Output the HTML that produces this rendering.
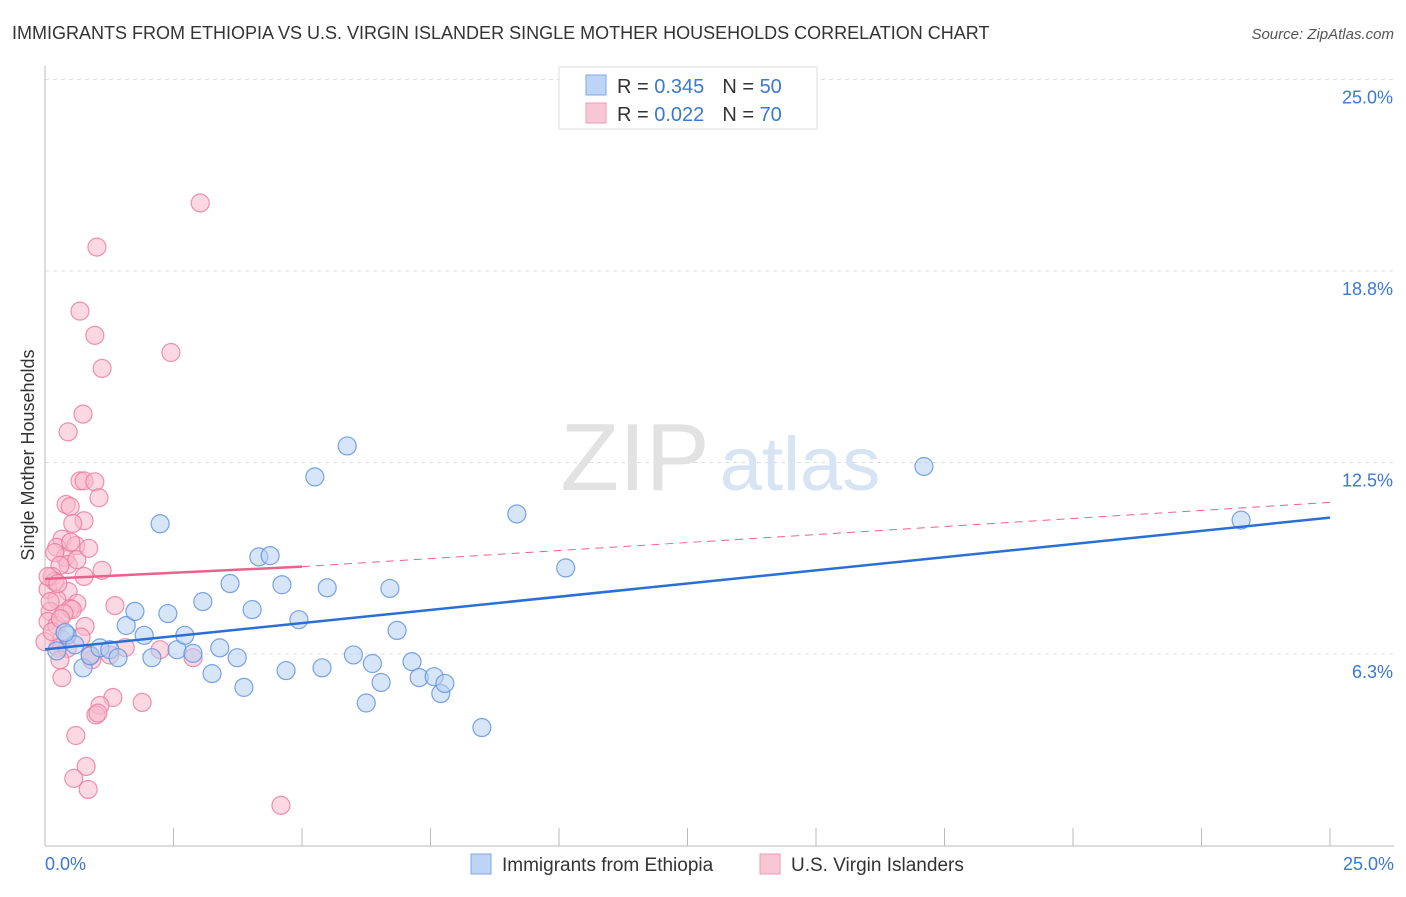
<!DOCTYPE html>
<html><head><meta charset="utf-8">
<style>
body{margin:0;background:#fff;font-family:"Liberation Sans",sans-serif;}
svg text{font-family:"Liberation Sans",sans-serif;}
</style></head>
<body>
<svg id="chart" width="1406" height="892" xmlns="http://www.w3.org/2000/svg">
<text x="12" y="39" font-size="18" fill="#333">IMMIGRANTS FROM ETHIOPIA VS U.S. VIRGIN ISLANDER SINGLE MOTHER HOUSEHOLDS CORRELATION CHART</text>
<text x="1394" y="39" font-size="15" fill="#555" text-anchor="end" font-style="italic">Source: ZipAtlas.com</text>
<g id="grid"></g>
<g>
<text x="635" y="490" font-size="96" fill="#e2e2e2" font-family="Liberation Serif" text-anchor="middle">ZIP</text>
<text x="800" y="490" font-size="76" fill="#d6e4f4" text-anchor="middle">atlas</text>
</g>
<g id="axes"></g>
<g id="pink"></g>
<g id="blue"></g>
<g id="trends"></g>
<text transform="translate(34,455) rotate(-90)" font-size="18" fill="#333" text-anchor="middle">Single Mother Households</text>
<g>
<rect x="559" y="67" width="258" height="62" fill="#fff" stroke="#ddd"/>
<rect x="586" y="75" width="20" height="20" fill="#bcd4f6" stroke="#7fa8e6"/>
<rect x="586" y="103" width="20" height="20" fill="#f9c6d6" stroke="#ee9ab4"/>
<text x="617" y="93" font-size="20" fill="#333">R = <tspan fill="#3a78d4">0.345</tspan><tspan dx="18">N = </tspan><tspan fill="#3a78d4">50</tspan></text>
<text x="617" y="121" font-size="20" fill="#333">R = <tspan fill="#3a78d4">0.022</tspan><tspan dx="18">N = </tspan><tspan fill="#3a78d4">70</tspan></text>
</g>
<g>
<rect x="471" y="854" width="20" height="20" fill="#bcd4f6" stroke="#7fa8e6"/>
<text x="502" y="871" font-size="19" fill="#333">Immigrants from Ethiopia</text>
<rect x="760" y="854" width="20" height="20" fill="#f9c6d6" stroke="#ee9ab4"/>
<text x="791" y="871" font-size="19" fill="#333">U.S. Virgin Islanders</text>
</g>
</svg>
<script>
const yTicks=[25.0,18.8,12.5,6.3];
const yTickLabels=["25.0%","18.8%","12.5%","6.3%"];
const xTickLabels=["0.0%","25.0%"];
const blueX=[0.23,0.43,0.58,0.74,0.88,1.07,1.26,1.42,1.58,1.75,1.93,2.08,2.24,2.39,2.57,2.72,2.88,3.07,3.25,3.40,3.60,3.74,3.87,4.03,4.16,4.38,4.61,4.69,4.94,5.25,5.39,5.49,5.88,6.00,6.25,6.37,6.54,6.71,6.85,7.14,7.28,7.57,7.70,7.78,8.50,9.18,10.13,17.10,23.27,0.39];
const blueY=[6.35,6.87,6.55,5.80,6.19,6.45,6.39,6.13,7.18,7.64,6.86,6.13,10.50,7.57,6.39,6.86,6.27,7.96,5.61,6.45,8.55,6.13,5.16,7.70,9.42,9.46,8.51,5.71,7.37,12.03,5.80,8.41,13.04,6.22,4.65,5.94,5.32,8.39,7.02,6.00,5.48,5.51,4.96,5.29,3.85,10.82,9.06,12.37,10.62,6.95];
const pinkX=[3.02,1.01,0.68,0.97,1.11,2.45,0.74,0.45,0.68,0.76,0.97,1.05,0.41,0.49,0.76,0.54,0.33,0.23,0.60,0.39,0.19,0.45,0.62,0.29,1.11,0.76,0.14,0.06,0.45,0.23,0.62,0.49,0.10,1.36,0.06,0.23,0.78,0.33,0.25,0.43,1.56,2.24,2.88,0.91,0.33,1.32,1.89,1.07,0.99,1.03,0.60,0.80,0.56,0.84,4.59,0.19,0.10,0.00,0.14,0.29,1.26,0.88,0.53,0.37,0.06,0.25,0.85,0.50,0.30,0.70];
const pinkY=[20.97,19.53,17.44,16.65,15.57,16.09,14.08,13.50,11.90,11.90,11.87,11.35,11.13,11.06,10.60,10.51,10.00,9.73,9.79,9.40,9.56,9.17,9.33,9.14,8.98,8.78,8.78,8.36,8.29,8.03,7.90,7.73,7.64,7.83,7.31,7.18,7.15,6.72,6.46,6.43,6.46,6.39,6.13,6.06,5.48,4.83,4.67,4.57,4.26,4.32,3.59,2.58,2.19,1.83,1.31,8.62,7.96,6.65,6.98,6.06,6.22,6.22,7.70,7.57,8.78,8.55,9.70,9.90,7.40,6.80];
const trendBlue=[6.4,10.7];
const trendPink=[8.7,9.1,11.2];
const NS="http://www.w3.org/2000/svg";
const X0=45,X1=1330,Y0=845.5,PPU=30.64;
const sx=v=>X0+(v/25)*(X1-X0);
const sy=v=>Y0-v*PPU;
function mk(t,a,p){const e=document.createElementNS(NS,t);for(const k in a)e.setAttribute(k,a[k]);p.appendChild(e);return e;}
const grid=document.getElementById('grid'),axes=document.getElementById('axes');
[25,18.75,12.5,6.25].forEach((v,i)=>{
 const l=mk('line',{x1:X0,x2:1394,y1:sy(v),y2:sy(v),stroke:'#ddd','stroke-dasharray':'4,4'},grid);
 
 
 const t=mk('text',{x:1393,y:sy(v)+24,'font-size':18,fill:'#3a78d4','text-anchor':'end'},axes);
 t.textContent=yTickLabels[i];
 
 
});
mk('line',{x1:X0,x2:X0,y1:66,y2:846,stroke:'#bbb'},axes);
mk('line',{x1:X0,x2:1394,y1:846,y2:846,stroke:'#bbb'},axes);
for(let i=0;i<=10;i++){const x=sx(i*2.5);const t=mk('line',{x1:x,x2:x,y1:828,y2:846,stroke:'#bbb'},axes);}
[[0,'start',45],[25,'end',1394]].forEach((d,i)=>{const t=mk('text',{x:d[2],y:870,'font-size':18,fill:'#3a78d4','text-anchor':d[1]},axes);t.textContent=xTickLabels[i];});
function dots(xs,ys,g,fill,stroke,name){xs.forEach((x,i)=>{const c=mk('circle',{cx:sx(x),cy:sy(ys[i]),r:9,fill:fill,'fill-opacity':0.55,stroke:stroke,'stroke-opacity':0.8,'stroke-width':1.2},g);
 
 });}
dots(pinkX,pinkY,document.getElementById('pink'),'#f7b8cb','#e9799b','pink-point');
dots(blueX,blueY,document.getElementById('blue'),'#b4cff3','#5a8fdc','blue-point');
const tr=document.getElementById('trends');
let l=mk('line',{x1:sx(0),y1:sy(trendBlue[0]),x2:sx(25),y2:sy(trendBlue[1]),stroke:'#2a6fd6','stroke-width':2.5},tr);

l=mk('line',{x1:sx(0),y1:sy(trendPink[0]),x2:sx(5),y2:sy(trendPink[1]),stroke:'#e8628c','stroke-width':2.5},tr);

l=mk('line',{x1:sx(5),y1:sy(trendPink[1]),x2:sx(25),y2:sy(trendPink[2]),stroke:'#e8628c','stroke-width':1,'stroke-dasharray':'8,6'},tr);

</script>
</body></html>
